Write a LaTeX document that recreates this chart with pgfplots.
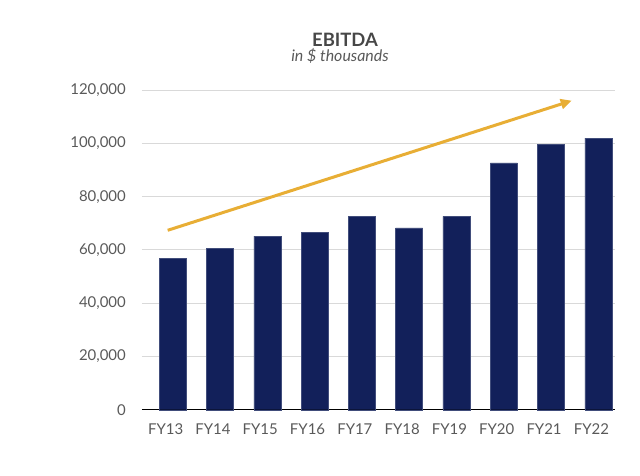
\documentclass[border=0pt]{standalone}
\usepackage{pgfplots}
\pgfplotsset{compat=1.18}
\usepackage{fontspec}
\setmainfont{Lato}
\usetikzlibrary{arrows.meta}
\definecolor{navy}{HTML}{12205A}
\definecolor{gold}{HTML}{E8AE35}
\definecolor{txt}{HTML}{595959}
\definecolor{gridc}{HTML}{D9D9D9}
\begin{document}
\begin{tikzpicture}
\begin{axis}[
  name=ax,
  scale only axis,
  width=473bp, height=319.4bp,
  xmin=-0.5, xmax=9.5,
  ymin=0, ymax=120000,
  xtick={0,...,9},
  xticklabels={FY13,FY14,FY15,FY16,FY17,FY18,FY19,FY20,FY21,FY22},
  ytick={0,20000,...,120000},
  scaled y ticks=false,
  /pgf/number format/.cd, fixed, precision=0, 1000 sep={,}, assume math mode=true,
  /pgfplots/.cd,
  ymajorgrids,
  major grid style={gridc, line width=1bp},
  axis x line*=bottom,
  axis y line*=left,
  x axis line style={black, line width=1.2bp, -},
  y axis line style={draw=none},
  tick style={draw=none},
  ticklabel style={font=\fontsize{15}{18}\selectfont, text=txt},
  yticklabel style={inner sep=0pt, anchor=east, xshift=-16bp},
  xticklabel style={inner sep=0pt, anchor=north, yshift=-14bp},
  clip=false,
]
\addplot[ybar, bar width=27bp, bar shift=7bp, fill=navy, draw=navy!80!white, line width=0.4bp]
  coordinates {(0,56800) (1,60500) (2,65200) (3,66700) (4,72700) (5,68300) (6,72600) (7,92700) (8,99600) (9,102000)};
\addplot[gold, line width=3bp, -{Triangle[length=11bp,width=10bp]}]
  coordinates {(0.043,67400) (8.585,116100)};
\end{axis}
\path ([xshift=-142bp,yshift=-66.3bp]ax.south west) rectangle ++(640bp,476bp);
\node[anchor=base, inner sep=0pt, text=txt!80!black, font=\fontsize{18.5}{20}\bfseries] at ([xshift=203bp,yshift=362.9bp]ax.south west) {EBITDA};
\node[anchor=base, inner sep=0pt, text=txt, font=\fontsize{16}{18}\itshape] at ([xshift=198bp,yshift=347.9bp]ax.south west) {in \$ thousands};
\end{tikzpicture}
\end{document}
